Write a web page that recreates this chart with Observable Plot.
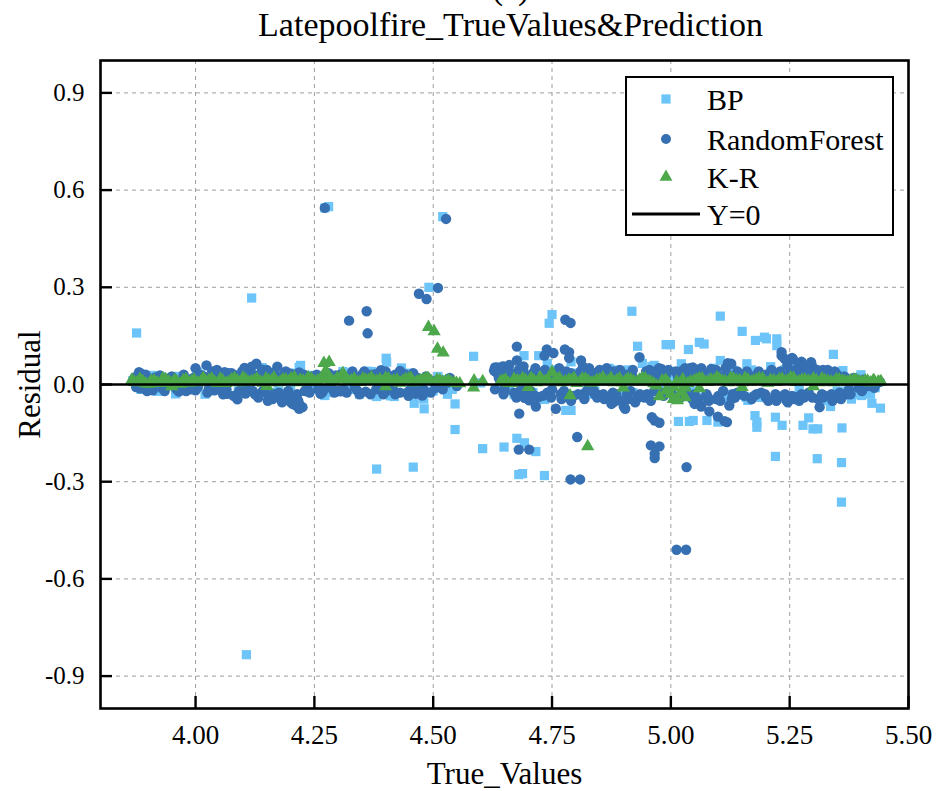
<!DOCTYPE html>
<html><head><meta charset="utf-8">
<script src="https://cdn.jsdelivr.net/npm/d3@7"></script>
<script src="https://cdn.jsdelivr.net/npm/@observablehq/plot@0.6"></script>
<style>
body{margin:0;background:#fff;}
#wrap{position:relative;width:938px;height:791px;overflow:hidden;font-family:"Liberation Serif","Times New Roman",Times,serif;}
#wrap svg{position:absolute;left:0;top:0;}
#wrap text{font-family:"Liberation Serif","Times New Roman",Times,serif;}
</style></head><body><div id="wrap"></div>
<script>
const chartTitle = "Latepoolfire_TrueValues&Prediction";
const panelTag = "(a)";
const xLabel = "True_Values";
const yLabel = "Residual";
const xTicks = [4.00, 4.25, 4.50, 4.75, 5.00, 5.25, 5.50];
const yTicks = [-0.9, -0.6, -0.3, 0.0, 0.3, 0.6, 0.9];
const seriesNames = ["BP", "RandomForest", "K-R"];
const zeroLabel = "Y=0";
const seriesColors = ["#6cc4f8", "#3670b2", "#4ca84a"];

// BP residuals [true value, residual]
const bpPoints = [
[3.876,0.159],[4.118,0.267],[4.272,0.545],[4.280,0.549],[4.520,0.518],[4.491,0.300],[4.585,0.087],[4.401,0.081],[4.402,0.069],[4.433,0.051],[4.218,0.053],[4.311,0.036],[4.361,0.041],[4.546,-0.060],[4.546,-0.139],[4.604,-0.198],[4.381,-0.261],[4.458,-0.255],[4.481,-0.075],[4.460,-0.058],[4.381,-0.037],[4.418,-0.037],[4.272,-0.034],[4.107,-0.834],
[4.750,0.216],[4.744,0.189],[4.918,0.226],[5.104,0.211],[5.150,0.164],[5.178,0.136],[5.197,0.146],[5.201,0.141],[5.223,0.141],[5.223,0.120],[5.060,0.130],[5.070,0.125],[4.990,0.123],[4.999,0.123],[5.037,0.108],[4.930,0.118],[5.342,0.093],[4.691,0.089],[4.722,0.089],[5.104,0.074],[5.160,0.064],[4.965,0.059],[5.022,0.064],[4.888,0.043],[5.362,0.043],[5.401,-0.034],[5.423,-0.058],[5.441,-0.073],[5.336,-0.068],[4.734,-0.046],[4.779,-0.080],[4.790,-0.080],[5.177,-0.096],[5.181,-0.116],[5.181,-0.132],[5.220,-0.101],[5.234,-0.126],[5.278,-0.126],[5.290,-0.103],[5.299,-0.137],[5.309,-0.137],[5.360,-0.134],[5.016,-0.114],[5.039,-0.114],[5.047,-0.111],[5.076,-0.111],[5.099,-0.116],[5.220,-0.222],[5.308,-0.229],[5.359,-0.241],[5.359,-0.363],[4.676,-0.166],[4.692,-0.180],[4.680,-0.278],[4.688,-0.275],[4.734,-0.281],[4.716,-0.207],[4.649,-0.193],[5.158,-0.039],[5.162,-0.049],[5.180,-0.036],[5.290,-0.035],[5.330,-0.040],
[3.868,0.012],[3.895,0.005],[3.909,0.028],[3.921,-0.021],[3.926,0.024],[3.940,0.020],[3.958,-0.029],[3.975,-0.010],[3.990,0.015],[4.004,0.038],[4.010,0.030],[4.032,-0.019],[4.045,0.010],[4.060,-0.026],[4.080,0.015],[4.102,-0.013],[4.120,0.020],[4.140,0.052],[4.165,-0.024],[4.185,0.010],[4.200,-0.005],[4.221,0.059],[4.239,0.028],[4.250,-0.012],[4.290,0.020],[4.310,0.040],[4.330,-0.015],[4.350,0.010],[4.370,0.040],[4.391,-0.030],[4.410,-0.035],[4.415,-0.030],[4.440,0.020],[4.480,-0.045],[4.500,-0.020],[4.520,0.015],[4.540,-0.015],[4.600,0.005],[4.640,0.010],[4.660,-0.010],[4.700,0.020],[4.740,0.065],[4.790,0.070],[4.800,0.035],[4.830,-0.030],[4.840,-0.020],[4.860,0.010],[4.885,0.045],[4.920,-0.025],[4.940,0.065],[4.960,0.055],[4.980,-0.010],[5.000,0.020],[5.050,-0.020],[5.080,0.030],[5.120,-0.030],[5.140,0.020],[5.210,0.055],[5.250,0.050],[5.270,-0.010],[5.300,0.015],[5.350,-0.020],[5.370,-0.020],[5.385,-0.030],[5.390,0.020],[5.410,0.005],[5.430,-0.010],
[3.885,-0.015],[3.935,0.012],[3.965,0.025],[4.020,-0.030],[4.070,0.025],[4.090,-0.020],[4.130,0.030],[4.175,-0.020],[4.210,0.035],[4.260,0.025],[4.280,-0.025],[4.320,0.030],[4.345,-0.030],[4.360,0.030],[4.425,-0.025],[4.450,0.035],[4.470,-0.025],[4.510,0.025],[4.530,-0.030],
[4.650,0.030],[4.670,-0.030],[4.710,-0.025],[4.760,0.045],[4.775,-0.035],[4.815,0.030],[4.850,-0.040],[4.870,0.050],[4.900,-0.030],[4.910,0.045],[4.945,-0.040],[4.975,0.040],[5.010,-0.035],[5.030,0.040],[5.060,-0.040],[5.090,0.050],[5.110,-0.045],[5.130,0.045],[5.170,0.045],[5.190,-0.040],[5.230,-0.035],[5.240,0.045],[5.260,-0.045],[5.290,0.040],[5.320,-0.050],[5.340,0.030],[5.380,-0.045],[5.400,0.030],[5.420,-0.030]
];

// RandomForest residuals [true value, residual]
const rfPoints = [
[4.272,0.545],[4.527,0.511],[4.510,0.298],[4.470,0.280],[4.486,0.264],[4.360,0.226],[4.323,0.197],[4.362,0.158],
[4.088,-0.046],[4.218,-0.075],[4.204,-0.060],[4.190,-0.044],[4.155,-0.039],[4.180,-0.036],[4.263,-0.029],[4.305,-0.021],[4.400,-0.021],[4.463,-0.029],[4.477,-0.034],[4.225,-0.070],
[4.778,0.200],[4.789,0.190],[4.676,0.117],[4.739,0.108],[4.753,0.097],[4.734,0.089],[4.777,0.108],[4.786,0.100],[4.786,0.082],[4.811,0.074],[4.676,0.074],[4.690,0.056],[4.934,0.084],[5.233,0.100],[5.233,0.089],[5.255,0.082],[5.295,0.069],[5.275,0.070],[5.280,0.050],[5.120,0.066],[5.127,0.064],[4.630,0.053],[4.646,0.056],[4.980,0.048],
[4.681,-0.090],[4.716,-0.068],[4.758,-0.075],[4.690,-0.036],[4.700,-0.046],[4.803,-0.162],[4.680,-0.201],[4.702,-0.201],[4.789,-0.293],[4.809,-0.293],[4.960,-0.101],[4.966,-0.111],[4.976,-0.118],[4.958,-0.188],[4.976,-0.191],[4.966,-0.214],[4.966,-0.227],[5.033,-0.255],[5.012,-0.510],[5.032,-0.510],[5.062,-0.063],[5.081,-0.083],[5.099,-0.099],[5.113,-0.113],[5.118,-0.116],[5.123,-0.065],[4.901,-0.068],[4.904,-0.075],[4.880,-0.054],[5.313,-0.070],[5.243,-0.049],[5.264,-0.039],[5.360,-0.030],
[3.868,0.010],[3.881,0.038],[3.886,0.033],[3.898,-0.020],[3.920,0.012],[3.940,0.005],[3.960,-0.015],[3.985,0.010],[4.000,0.050],[4.000,-0.018],[4.010,0.030],[4.023,0.059],[4.040,0.030],[4.040,-0.018],[4.050,0.035],[4.061,0.038],[4.067,-0.029],[4.070,0.035],[4.076,0.035],[4.103,0.051],[4.110,0.045],[4.120,0.030],[4.120,-0.020],[4.128,0.064],[4.140,0.046],[4.140,-0.023],[4.150,0.045],[4.155,-0.034],[4.165,0.037],[4.165,-0.030],[4.172,0.055],[4.179,-0.044],[4.190,0.040],[4.190,-0.040],[4.200,0.033],[4.200,-0.054],[4.207,-0.045],[4.214,-0.030],[4.218,0.037],[4.218,-0.060],[4.230,-0.020],[4.250,0.010],[4.267,-0.024],[4.290,0.015],[4.300,-0.020],[4.320,0.020],[4.340,0.020],[4.340,-0.018],[4.370,0.030],[4.380,-0.015],[4.390,0.044],[4.400,0.040],[4.400,-0.020],[4.420,0.030],[4.430,0.042],[4.430,0.035],[4.430,-0.025],[4.445,-0.025],[4.450,0.025],[4.460,-0.020],[4.480,-0.015],[4.500,0.010],[4.530,0.005],[4.550,-0.005],
[4.628,0.043],[4.635,0.053],[4.640,0.034],[4.649,0.055],[4.632,0.038],[4.630,-0.015],[4.650,-0.020],[4.650,-0.010],[4.665,0.035],[4.670,-0.025],[4.690,0.040],[4.692,-0.041],[4.702,-0.049],[4.710,0.035],[4.713,-0.034],[4.740,-0.025],[4.760,0.035],[4.770,-0.045],[4.780,0.040],[4.790,0.035],[4.790,-0.050],[4.810,0.040],[4.820,-0.025],[4.830,0.040],[4.840,0.035],[4.840,-0.030],[4.850,0.045],[4.850,-0.033],[4.860,-0.045],[4.870,0.030],[4.870,-0.040],[4.875,-0.060],[4.880,0.040],[4.910,-0.045],[4.930,-0.040],[4.950,0.030],[4.950,-0.030],[4.960,0.035],[4.975,0.050],[4.990,0.030],[5.010,0.040],[5.020,-0.040],[5.030,0.050],[5.040,0.050],[5.040,-0.035],[5.046,0.053],[5.050,0.030],[5.050,-0.060],[5.050,-0.030],[5.064,0.050],[5.064,-0.068],[5.080,-0.050],[5.085,0.048],[5.095,0.045],[5.100,-0.035],[5.130,-0.030],[5.140,0.040],[5.140,-0.025],[5.180,0.030],[5.180,-0.030],[5.200,0.030],[5.200,-0.040],[5.210,0.035],[5.220,-0.030],[5.230,0.040],[5.239,0.080],[5.246,-0.055],[5.250,0.035],[5.257,0.078],[5.260,-0.045],[5.270,0.065],[5.275,0.055],[5.280,0.035],[5.280,-0.040],[5.297,0.057],[5.300,0.040],[5.320,0.045],[5.320,-0.040],[5.330,0.045],[5.350,0.030],[5.350,-0.040],[5.370,-0.030],[5.380,0.015],[5.400,0.010],[5.420,0.005],
[3.875,-0.008],[3.892,0.015],[3.905,-0.005],[3.915,0.022],[3.930,-0.012],[3.945,0.018],[3.955,-0.006],[3.970,0.012],[3.980,-0.020],[3.995,0.020],[4.005,-0.008],[4.018,0.025],[4.028,-0.012],[4.035,0.040],[4.048,-0.005],[4.055,0.022],[4.065,-0.015],[4.085,0.028],[4.092,-0.020],[4.098,0.040],[4.108,-0.010],[4.115,0.020],[4.125,-0.030],[4.135,0.030],[4.145,-0.012],[4.158,0.025],[4.162,-0.045],[4.170,0.020],[4.175,-0.025],[4.185,0.030],[4.195,-0.020],[4.205,0.018],[4.212,-0.065],[4.222,0.015],[4.235,-0.010],[4.245,0.025],[4.258,-0.015],[4.275,0.020],[4.285,-0.010],[4.295,0.028],[4.312,-0.015],[4.325,0.025],[4.335,-0.008],[4.350,0.030],[4.358,-0.022],[4.365,0.018],[4.378,0.032],[4.392,-0.010],[4.410,0.025],[4.415,-0.012],[4.440,0.032],[4.452,-0.015],[4.468,0.020],[4.475,-0.020],[4.490,0.015],[4.505,-0.010],[4.515,0.012],[4.540,0.008],
[4.645,0.045],[4.655,0.020],[4.660,0.060],[4.672,0.015],[4.680,0.045],[4.685,-0.015],[4.695,0.025],[4.705,-0.020],[4.715,0.050],[4.725,0.020],[4.730,-0.035],[4.745,0.030],[4.750,-0.015],[4.765,0.050],[4.775,-0.020],[4.800,0.025],[4.805,-0.030],[4.815,0.055],[4.825,-0.015],[4.835,0.020],[4.845,-0.040],[4.855,0.025],[4.865,0.050],[4.885,-0.030],[4.890,0.025],[4.895,-0.050],[4.905,0.030],[4.915,-0.020],[4.920,0.045],[4.925,-0.055],[4.940,0.020],[4.945,-0.040],[4.955,0.045],[4.965,-0.020],[4.970,0.025],[4.985,-0.035],[4.995,0.045],[5.000,-0.020],[5.015,0.025],[5.025,-0.030],[5.035,0.030],[5.045,-0.045],[5.055,0.045],[5.070,0.020],[5.075,-0.030],[5.090,0.035],[5.095,-0.045],[5.105,0.025],[5.110,-0.020],[5.115,0.050],[5.135,-0.040],[5.150,0.030],[5.155,-0.035],[5.165,0.025],[5.170,-0.045],[5.185,0.040],[5.190,-0.025],[5.195,0.020],[5.205,-0.050],[5.215,0.025],[5.225,-0.040],[5.235,0.025],[5.240,-0.030],[5.245,0.060],[5.255,-0.035],[5.265,0.030],[5.270,-0.050],[5.285,0.045],[5.290,-0.025],[5.305,0.030],[5.310,-0.045],[5.315,0.025],[5.325,-0.035],[5.335,0.030],[5.340,-0.050],[5.345,0.040],[5.355,-0.025],[5.365,0.025],[5.375,-0.015],[5.385,0.020],[5.395,-0.010],[5.405,0.015],[5.415,-0.005],[5.425,0.010],[5.435,0.005],
[3.872,0.022],[3.883,-0.012],[3.895,0.030],[3.910,-0.018],[3.925,0.028],[3.935,-0.020],[3.950,0.025],[3.965,-0.022],[3.975,0.030],[3.990,-0.015],[4.015,0.012],[4.025,-0.025],[4.045,0.045],[4.058,-0.030],[4.072,0.015],[4.080,-0.035],[4.095,0.018],[4.105,-0.028],[4.118,0.055],[4.132,-0.040],[4.148,0.015],[4.152,-0.050],[4.168,0.010],[4.182,-0.055],[4.188,0.015],[4.198,-0.035],[4.210,0.030],[4.216,-0.050],[4.228,0.030],[4.240,-0.025],[4.255,0.030],[4.270,-0.015],[4.280,0.035],[4.292,-0.025],[4.305,0.030],[4.318,-0.025],[4.330,0.040],[4.345,-0.030],[4.355,0.040],[4.368,-0.030],[4.385,0.015],[4.395,-0.030],[4.405,0.015],[4.420,-0.030],[4.435,0.015],[4.448,-0.035],[4.458,0.035],[4.470,-0.010],[4.485,0.025],[4.495,-0.025],[4.520,-0.015],[4.535,0.020],
[4.638,0.020],[4.648,-0.030],[4.662,0.010],[4.675,-0.040],[4.688,0.025],[4.698,-0.030],[4.708,0.020],[4.720,-0.040],[4.735,0.045],[4.748,-0.040],[4.756,0.020],[4.768,-0.030],[4.782,0.025],[4.795,-0.035],[4.808,0.020],[4.818,-0.045],[4.828,0.050],[4.838,-0.020],[4.848,0.030],[4.858,-0.030],[4.868,0.040],[4.878,-0.025],[4.893,0.045],[4.908,-0.030],[4.918,0.030],[4.935,-0.030],[4.948,0.040],[4.958,-0.050],[4.968,0.040],[4.980,-0.025],[4.993,0.040],[5.005,-0.035],[5.020,0.040],[5.032,-0.020],[5.048,0.040],[5.058,-0.045],[5.068,0.035],[5.078,-0.040],[5.092,0.030],[5.104,-0.050],[5.118,0.035],[5.128,-0.045],[5.138,0.025],[5.148,-0.030],[5.160,0.040],[5.175,-0.035],[5.188,0.030],[5.198,-0.030],[5.212,0.045],[5.222,-0.050],[5.232,0.030],[5.248,-0.045],[5.262,0.045],[5.275,-0.030],[5.288,0.030],[5.298,-0.040],[5.308,0.045],[5.318,-0.030],[5.328,0.035],[5.338,-0.030],[5.348,0.020],[5.358,-0.045],[5.368,0.020],[5.378,-0.030],[5.392,0.015],[5.402,-0.020],[5.412,0.010],[5.428,-0.010],[5.440,0.008]
];

// K-R residuals: scattered points [true value, residual]
const krPoints = [
[4.490,0.177],[4.502,0.164],[4.509,0.110],[4.521,0.098],[4.270,0.066],[4.281,0.069],[4.274,0.043],[4.310,0.035],[4.586,0.012],[4.585,-0.010],[4.604,0.010],[4.750,0.038],[4.825,-0.191],[4.788,-0.034],[4.976,-0.037],[5.014,-0.049],[5.000,-0.030],[5.020,-0.025],[5.030,-0.040],[5.005,-0.045],
[3.950,-0.006],[4.150,-0.005],[4.400,-0.006],[4.700,-0.008],[4.900,-0.010],[5.150,-0.008],[5.300,-0.006],[5.060,-0.012],[4.990,-0.020]
];
// K-R residuals: dense band near zero (true values and residuals)
const krBandX = [3.866,3.877,3.889,3.902,3.913,3.926,3.937,3.950,3.961,3.974,3.986,3.997,4.010,4.021,4.034,4.046,4.057,4.070,4.082,4.093,4.106,4.118,4.129,4.142,4.154,4.165,4.178,4.190,4.201,4.214,4.226,4.237,4.250,4.262,4.287,4.298,4.322,4.334,4.345,4.358,4.370,4.381,4.394,4.406,4.417,4.430,4.442,4.453,4.466,4.478,4.489,4.514,4.526,4.537,4.549,
4.641,4.652,4.665,4.677,4.688,4.701,4.712,4.725,4.736,4.761,4.772,4.785,4.796,4.809,4.820,4.833,4.844,4.857,4.868,4.881,4.892,4.905,4.916,4.929,4.940,4.953,4.964,4.989,5.012,5.025,5.036,5.049,5.060,5.073,5.084,5.097,5.108,5.121,5.132,5.145,5.156,5.169,5.180,5.193,5.204,5.217,5.228,5.241,5.252,5.265,5.276,5.289,5.300,5.313,5.324,5.337,5.348,5.361,5.372,5.385,5.396,5.409,5.420,5.428,5.436,5.442,
3.871,3.883,3.895,3.907,3.919,3.931,3.944,3.956,3.968,3.980,3.992,4.004,4.016,4.028,4.040,4.052,4.064,4.076,4.088,4.100,4.112,4.124,4.136,4.148,4.160,4.172,4.184,4.196,4.208,4.220,4.232,4.244,4.256,4.268,4.280,4.292,4.304,4.316,4.328,4.340,4.352,4.364,4.376,4.388,4.400,4.412,4.424,4.436,4.448,4.460,4.472,4.484,4.496,4.508,4.520,4.532,4.544,4.556,
4.646,4.658,4.670,4.682,4.694,4.706,4.718,4.730,4.742,4.754,4.766,4.778,4.790,4.802,4.814,4.826,4.838,4.850,4.862,4.874,4.886,4.898,4.910,4.922,4.934,4.946,4.958,4.970,4.982,4.994,5.006,5.018,5.030,5.042,5.054,5.066,5.078,5.090,5.102,5.114,5.126,5.138,5.150,5.162,5.174,5.186,5.198,5.210,5.222,5.234,5.246,5.258,5.270,5.282,5.294,5.306,5.318,5.330,5.342,5.354,5.366,5.378,5.390,5.402,5.414,5.426,5.438];
const krBandY = [0.014,0.006,0.010,0.002,0.012,0.004,0.016,0.003,0.009,0.013,0.005,0.015,0.007,0.011,0.018,0.004,0.012,0.008,0.020,0.006,0.014,0.010,0.017,0.005,0.013,0.021,0.008,0.015,0.019,0.006,0.012,0.022,0.009,0.016,0.013,0.020,0.010,0.017,0.007,0.014,0.021,0.011,0.008,0.018,0.012,0.005,0.016,0.020,0.009,0.014,0.019,0.013,0.010,0.007,0.004,
0.008,0.015,0.004,0.012,0.019,0.007,0.013,0.022,0.010,0.016,0.006,0.014,0.020,0.009,0.017,0.005,0.013,0.021,0.011,0.006,0.018,0.012,0.015,0.008,0.020,0.010,0.003,0.014,0.009,0.016,0.004,0.012,0.019,0.007,0.015,0.022,0.011,0.006,0.017,0.013,0.020,0.008,0.014,0.018,0.005,0.012,0.016,0.010,0.021,0.007,0.014,0.011,0.018,0.006,0.013,0.009,0.016,0.012,0.008,0.014,0.010,0.012,0.006,0.011,0.008,0.010,
0.008,0.017,0.003,0.011,0.006,0.019,0.009,0.014,0.002,0.016,0.010,0.006,0.020,0.013,0.008,0.017,0.004,0.015,0.011,0.021,0.007,0.013,0.009,0.018,0.012,0.006,0.016,0.010,0.022,0.014,0.008,0.017,0.011,0.024,0.019,0.009,0.015,0.021,0.012,0.007,0.018,0.013,0.010,0.016,0.020,0.008,0.014,0.011,0.017,0.006,0.013,0.019,0.010,0.015,0.008,0.012,0.006,0.003,
0.012,0.005,0.017,0.009,0.014,0.020,0.006,0.011,0.016,0.008,0.019,0.010,0.013,0.004,0.018,0.011,0.007,0.015,0.009,0.020,0.013,0.006,0.017,0.010,0.014,0.019,0.008,-0.004,0.012,0.006,-0.008,0.003,-0.010,0.009,0.014,0.018,0.007,0.012,0.016,0.010,0.020,0.013,0.006,0.015,0.011,0.019,0.009,0.014,0.007,0.017,0.012,0.020,0.010,0.015,0.008,0.013,0.018,0.011,0.006,0.015,0.009,0.012,0.014,0.008,0.011,0.013,0.007];

const krAll = krPoints.concat(d3.zip(krBandX, krBandY));

const W = 938, H = 791, mL = 100, mR = 30, mT = 60, mB = 83;
const innerW = W - mL - mR, innerH = H - mT - mB;
const font = '"Liberation Serif", "Times New Roman", Times, serif';
const gridStyle = {stroke: "#9c9c9c", strokeWidth: 1, strokeDasharray: "4,4"};

const chart = Plot.plot({
  width: W, height: H,
  marginLeft: mL, marginRight: mR, marginTop: mT, marginBottom: mB,
  style: {fontFamily: font, background: "white", color: "black", overflow: "visible"},
  x: {domain: [3.8, 5.5]},
  y: {domain: [-1, 1]},
  marks: [
    Plot.ruleX(xTicks.filter(d => d < 5.5), {x: d => d, ...gridStyle}),
    Plot.ruleY(yTicks.filter(d => d !== 0), {y: d => d, ...gridStyle}),
    Plot.dot(bpPoints, {x: d => d[0], y: d => d[1], symbol: "square", r: 5.2, fill: seriesColors[0]}),
    Plot.dot(rfPoints, {x: d => d[0], y: d => d[1], symbol: "circle", r: 5.2, fill: seriesColors[1]}),
    Plot.dot(krAll, {x: d => d[0], y: d => d[1], symbol: "triangle", r: 4.9, fill: seriesColors[2]}),
    Plot.ruleY([0], {y: d => d, stroke: "black", strokeWidth: 2.6}),
    Plot.tickX(xTicks, {x: d => d, insetTop: innerH - 12, stroke: "black", strokeWidth: 2.4}),
    Plot.tickY(yTicks, {y: d => d, insetRight: innerW - 12, stroke: "black", strokeWidth: 2.4}),
    Plot.frame({stroke: "black", strokeWidth: 2.6}),
    Plot.axisX(xTicks, {tickSize: 0, tickPadding: 16, tickFormat: d => d.toFixed(2), fontSize: 27, fontFamily: font, label: null}),
    Plot.axisY(yTicks, {tickSize: 0, tickPadding: 16, tickFormat: d => d.toFixed(1), fontSize: 25, fontFamily: font, label: null}),
    Plot.text([chartTitle], {frameAnchor: "top", lineAnchor: "bottom", dy: -25, dx: 6, fontSize: 34, fontFamily: font}),
    Plot.text([panelTag], {frameAnchor: "top", lineAnchor: "bottom", dy: -62, dx: 6, fontSize: 34, fontFamily: font}),
    Plot.text([yLabel], {frameAnchor: "left", textAnchor: "middle", lineAnchor: "middle", rotate: -90, dx: -70, fontSize: 31, fontFamily: font}),
    Plot.text([xLabel], {frameAnchor: "bottom", textAnchor: "middle", lineAnchor: "middle", dy: 66, fontSize: 31, fontFamily: font})
  ]
});
document.getElementById("wrap").appendChild(chart);

// legend overlay
const lg = d3.select("#wrap").append("svg").attr("width", W).attr("height", H).style("pointer-events", "none");
const box = {x: 626, y: 77, w: 267, h: 158};
lg.append("rect").attr("x", box.x).attr("y", box.y).attr("width", box.w).attr("height", box.h)
  .attr("fill", "white").attr("stroke", "black").attr("stroke-width", 2);
const rowY = [99, 139, 177, 214];
const symTypes = [d3.symbolSquare, d3.symbolCircle, d3.symbolTriangle];
const symR = [5.2, 5, 4.8];
seriesNames.forEach((name, i) => {
  lg.append("path").attr("d", d3.symbol().type(symTypes[i]).size(Math.PI * symR[i] * symR[i])())
    .attr("transform", `translate(666,${rowY[i]})`).attr("fill", seriesColors[i]);
  lg.append("text").attr("x", 707).attr("y", rowY[i]).attr("dy", "0.35em")
    .attr("font-family", font).attr("font-size", 30).text(name);
});
lg.append("line").attr("x1", 632).attr("x2", 700).attr("y1", rowY[3]).attr("y2", rowY[3])
  .attr("stroke", "black").attr("stroke-width", 3);
lg.append("text").attr("x", 707).attr("y", rowY[3]).attr("dy", "0.35em")
  .attr("font-family", font).attr("font-size", 30).text(zeroLabel);
</script></body></html>
